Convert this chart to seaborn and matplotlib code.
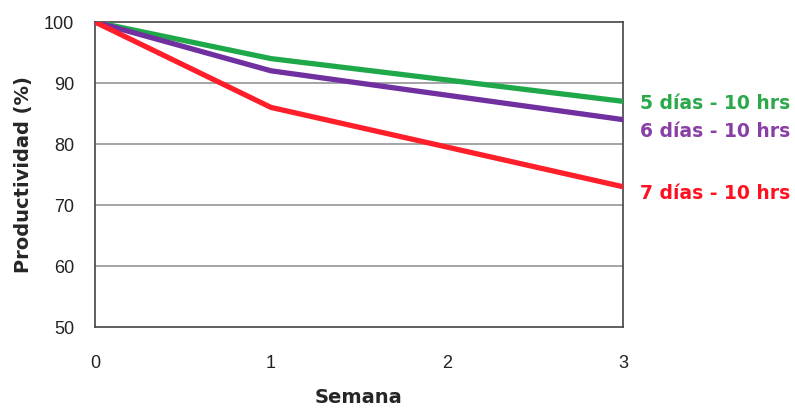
import matplotlib
matplotlib.use("Agg")
import matplotlib.pyplot as plt
import seaborn as sns
import pandas as pd

semanas = [0, 1, 2, 3]
serie_5 = [100, 94, 90.5, 87]
serie_6 = [100, 92, 88, 84]
serie_7 = [100, 86, 79.5, 73]
nombres = ["5 días - 10 hrs", "6 días - 10 hrs", "7 días - 10 hrs"]
colores_linea = ["#1ea84a", "#7030a0", "#ff1f2a"]
colores_texto = ["#2aa84a", "#8a3fa6", "#ff1020"]
y_ticks = [50, 60, 70, 80, 90, 100]

sns.set_theme(style="white")
plt.rcParams["font.family"] = ["Liberation Sans", "DejaVu Sans"]

df = pd.DataFrame({
    "Semana": semanas * 3,
    "Productividad": serie_5 + serie_6 + serie_7,
    "Serie": [n for n in nombres for _ in semanas],
})

fig = plt.figure(figsize=(7.95, 4.12), dpi=100)
ax = fig.add_axes([0.1195, 0.2063, 0.664, 0.7403])

for y in y_ticks[1:-1]:
    ax.axhline(y, color="#8c8c8c", lw=1.1, zorder=0)

sns.lineplot(data=df, x="Semana", y="Productividad", hue="Serie",
             palette=dict(zip(nombres, colores_linea)), lw=3.8,
             legend=False, ax=ax, zorder=3)

ax.set_xlim(0, 3)
ax.set_ylim(50, 100)
ax.set_xticks(semanas)
ax.set_yticks(y_ticks)
ax.tick_params(axis="both", labelsize=13, colors="#222222", direction="out",
               length=4, width=0.8)
ax.tick_params(axis="y", pad=11)
ax.tick_params(axis="x", pad=16)
for s in ax.spines.values():
    s.set_color("#444444")
    s.set_linewidth(1.2)

ax.set_xlabel("Semana", fontsize=14, fontweight="bold", labelpad=12,
              family=["DejaVu Sans"])
ax.set_ylabel("Productividad (%)", fontsize=14, fontweight="bold", labelpad=8,
              family=["DejaVu Sans"])

finales = [serie_5[-1], serie_6[-1], serie_7[-1]]
offsets = [-0.3, -2.0, -1.1]
for nombre, val, col, off in zip(nombres, finales, colores_texto, offsets):
    ax.annotate(nombre, xy=(3, val + off), xytext=(12, 0),
                textcoords="offset points", va="center", ha="left",
                fontsize=13.5, fontweight="bold", color=col,
                family=["DejaVu Sans"], annotation_clip=False)

fig.savefig("out.png", dpi=100, facecolor="white")
